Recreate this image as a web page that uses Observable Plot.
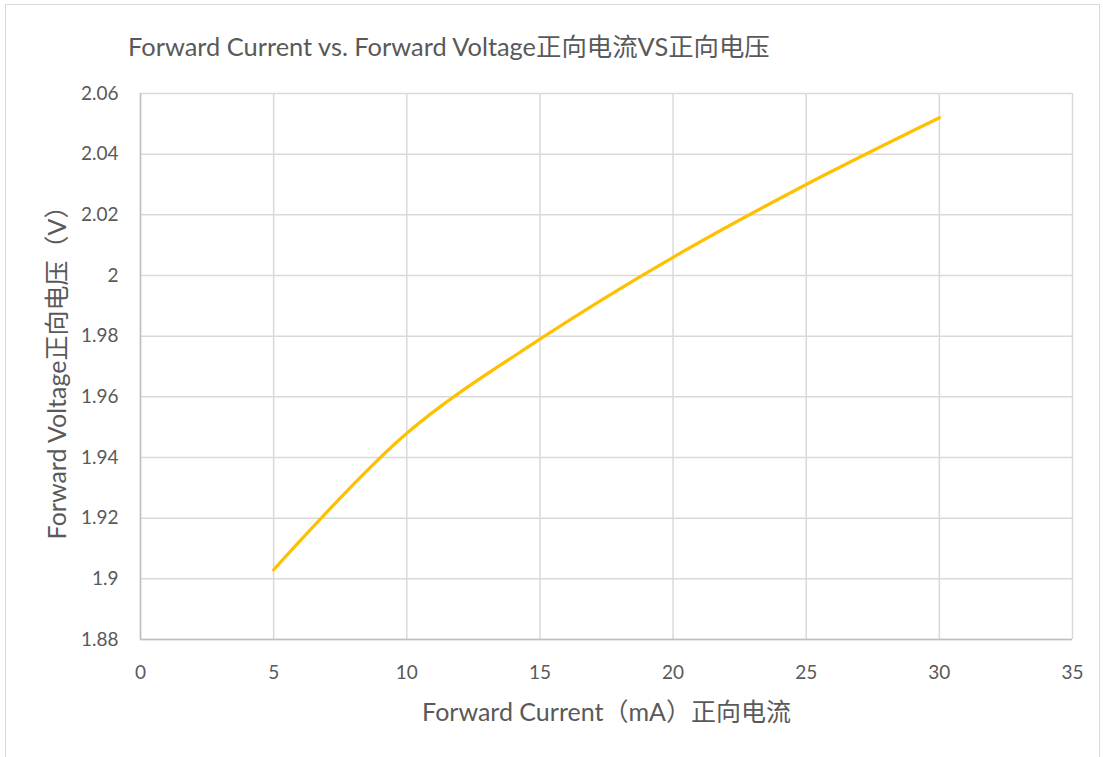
<!DOCTYPE html>
<html>
<head>
<meta charset="utf-8">
<script src="https://cdn.jsdelivr.net/npm/d3@7"></script>
<script src="https://cdn.jsdelivr.net/npm/@observablehq/plot@0.6"></script>
<style>
  html, body { margin: 0; padding: 0; background: #fff; }
  #wrap { position: relative; width: 1103px; height: 757px; overflow: hidden; background: #fff;
          font-family: Lato, "Noto Sans CJK SC", sans-serif; }
  #frame { position: absolute; left: 5px; top: 4px; width: 1095px; height: 800px; border: 1.5px solid #d9d9d9; box-sizing: border-box; }
  #title { position: absolute; left: 128px; top: 27px; font-size: 25.4px; color: #595959; white-space: nowrap; }
  #chart { position: absolute; left: 0; top: 70px; }
</style>
</head>
<body>
<div id="wrap">
  <div id="frame"></div>
  <div id="title">Forward Current vs. Forward Voltage正向电流VS正向电压</div>
  <div id="chart"></div>
</div>
<script>
const current = [5, 10, 15, 20, 25, 30];
const voltage = [1.903, 1.948, 1.979, 2.006, 2.030, 2.052];
const xTicks = [0, 5, 10, 15, 20, 25, 30, 35];
const yTicks = [1.88, 1.90, 1.92, 1.94, 1.96, 1.98, 2.00, 2.02, 2.04, 2.06];
const yTickLabels = ["1.88", "1.9", "1.92", "1.94", "1.96", "1.98", "2", "2.02", "2.04", "2.06"];
const xLabel = "Forward Current（mA）正向电流";
const yLabel = "Forward Voltage正向电压（V）";

const data = current.map((c, i) => ({current: c, voltage: voltage[i]}));

const chart = Plot.plot({
  width: 1103,
  height: 687,
  marginLeft: 140,
  marginRight: 31,
  marginTop: 23,
  marginBottom: 118,
  style: {fontFamily: 'Lato, "Noto Sans CJK SC", sans-serif', fontSize: "19px", color: "#595959", background: "transparent"},
  x: {domain: [0, 35]},
  y: {domain: [1.88, 2.06]},
  marks: [
    Plot.gridX(xTicks, {stroke: "#d9d9d9", strokeOpacity: 1, strokeWidth: 1.5}),
    Plot.gridY(yTicks, {stroke: "#d9d9d9", strokeOpacity: 1, strokeWidth: 1.5}),
    Plot.ruleY([1.88], {stroke: "#bfbfbf", strokeWidth: 1.5}),
    Plot.ruleX([0], {stroke: "#bfbfbf", strokeWidth: 1.5}),
    Plot.axisX(xTicks, {tickSize: 0, tickPadding: 26, fontSize: 19, fill: "#595959", label: null}),
    Plot.axisY(yTicks, {tickSize: 0, tickPadding: 22, fontSize: 19, fill: "#595959",
      tickFormat: (d, i) => yTickLabels[i], label: null}),
    Plot.text([xLabel], {frameAnchor: "bottom", dy: 73, fontSize: 25, fill: "#595959", lineAnchor: "middle", textAnchor: "middle"}),
    Plot.text([yLabel], {frameAnchor: "left", dx: -83, rotate: -90, fontSize: 25, fill: "#595959", lineAnchor: "middle", textAnchor: "middle"}),
    Plot.line(data, {x: "current", y: "voltage", stroke: "#FFC000", strokeWidth: 3.2, curve: "catmull-rom"})
  ]
});
document.getElementById("chart").appendChild(chart);
</script>
</body>
</html>
